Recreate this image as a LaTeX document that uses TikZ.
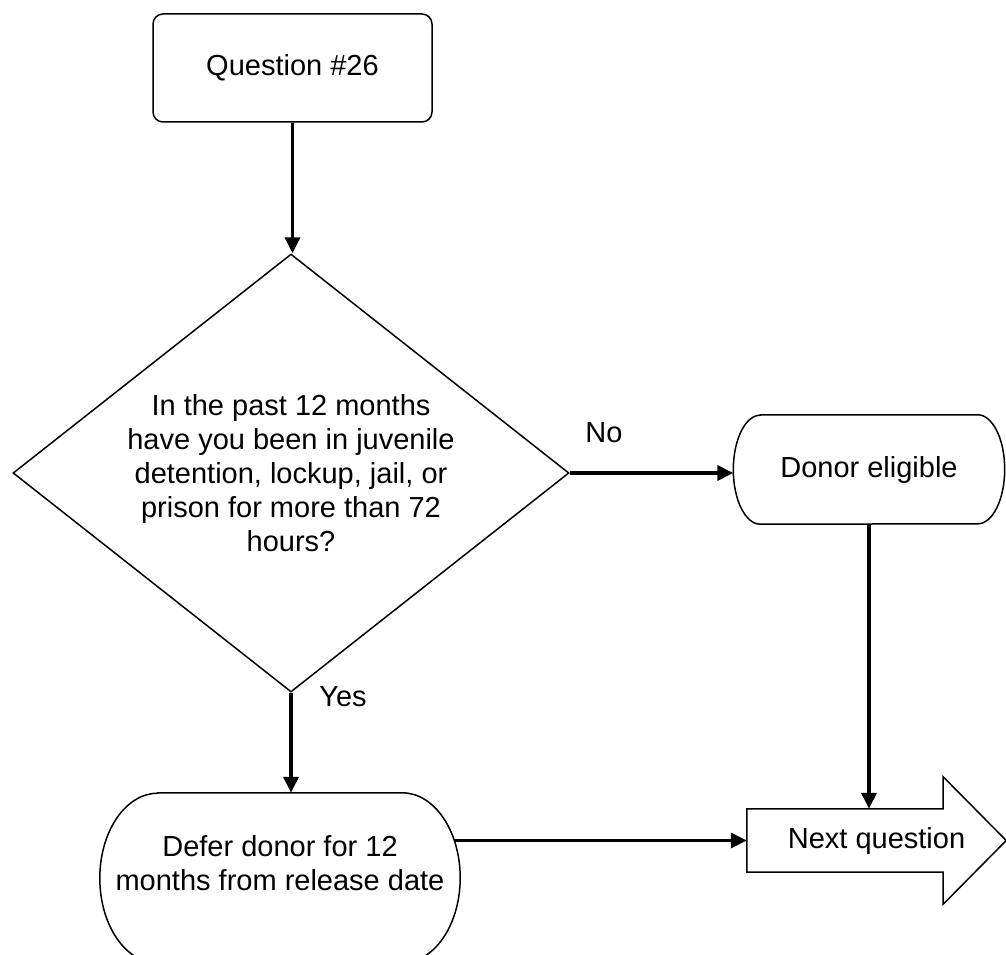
\documentclass[tikz,border=0pt]{standalone}
\usepackage{fontspec}
\setmainfont{Liberation Sans}
\usetikzlibrary{shapes.geometric,arrows.meta}
\tikzset{
  box/.style={draw,line width=1.5pt,align=center,inner sep=0pt},
  term/.style={align=center,inner sep=0pt},
  outline/.style={line width=1.5pt},
  flow/.style={line width=3.5pt,-{Triangle[length=16pt,width=15pt]}},
  lbl/.style={inner sep=0pt,align=center},
}

\begin{document}
\begin{tikzpicture}[x=1pt,y=-1pt,font=\fontsize{29}{34}\selectfont]
	\useasboundingbox (0,0) rectangle (1006,955);
	\node[box,rounded corners=10pt,minimum width=279pt,minimum height=108pt] (q26) at (292.5,68) {Question \#26};
	\node[box,diamond,shape aspect=1.27,minimum width=556pt,minimum height=438pt] (dec) at (291,473) {In the past 12 months\\have you been in juvenile\\detention, lockup, jail, or\\prison for more than 72\\hours?};
	\node[term,minimum width=271pt,minimum height=109pt] (elig) at (869,469.5) {Donor eligible};
	\draw[outline] ([xshift=27pt]elig.north west) -- ([xshift=-27pt]elig.north east) arc[start angle=90,end angle=-90,x radius=27pt,y radius=54.5pt] -- ([xshift=27pt]elig.south west) arc[start angle=270,end angle=90,x radius=27pt,y radius=54.5pt] -- cycle;
	\node[term,minimum width=360pt,minimum height=170pt,label={[lbl,yshift=15pt]center:{Defer donor for 12\\months from release date}}] (defer) at (280,878) {};
	\draw[outline] ([xshift=58pt]defer.north west) -- ([xshift=-58pt]defer.north east) arc[start angle=90,end angle=-90,x radius=58pt,y radius=85pt] -- ([xshift=58pt]defer.south west) arc[start angle=270,end angle=90,x radius=58pt,y radius=85pt] -- cycle;
	\node[lbl,minimum width=259pt,minimum height=63pt] (nq) at (876.5,840.5) {Next question};
	\draw[outline] (nq.south west) -- (nq.north west) -- ([xshift=-63pt]nq.north east) -- ++(0,32pt) -- (nq.east) -- ([xshift=-63pt,yshift=-32pt]nq.south east) -- ([xshift=-63pt]nq.south east) -- cycle;
	\node[lbl] (no) at (604,433) {No};
	\node[lbl] (yes) at (343,697) {Yes};
	\draw[flow] (q26.south) -- (q26.south |- dec.north);
	\draw[flow] (dec.east) -- (dec.east -| elig.west);
	\draw[flow] (elig.south) -- (elig.south |- nq.north);
	\draw[flow] (dec.south) -- (dec.south |- defer.north);
	\draw[flow] (defer.east |- nq.west) ++(-6pt,0) -- (nq.west);
\end{tikzpicture}
\end{document}
